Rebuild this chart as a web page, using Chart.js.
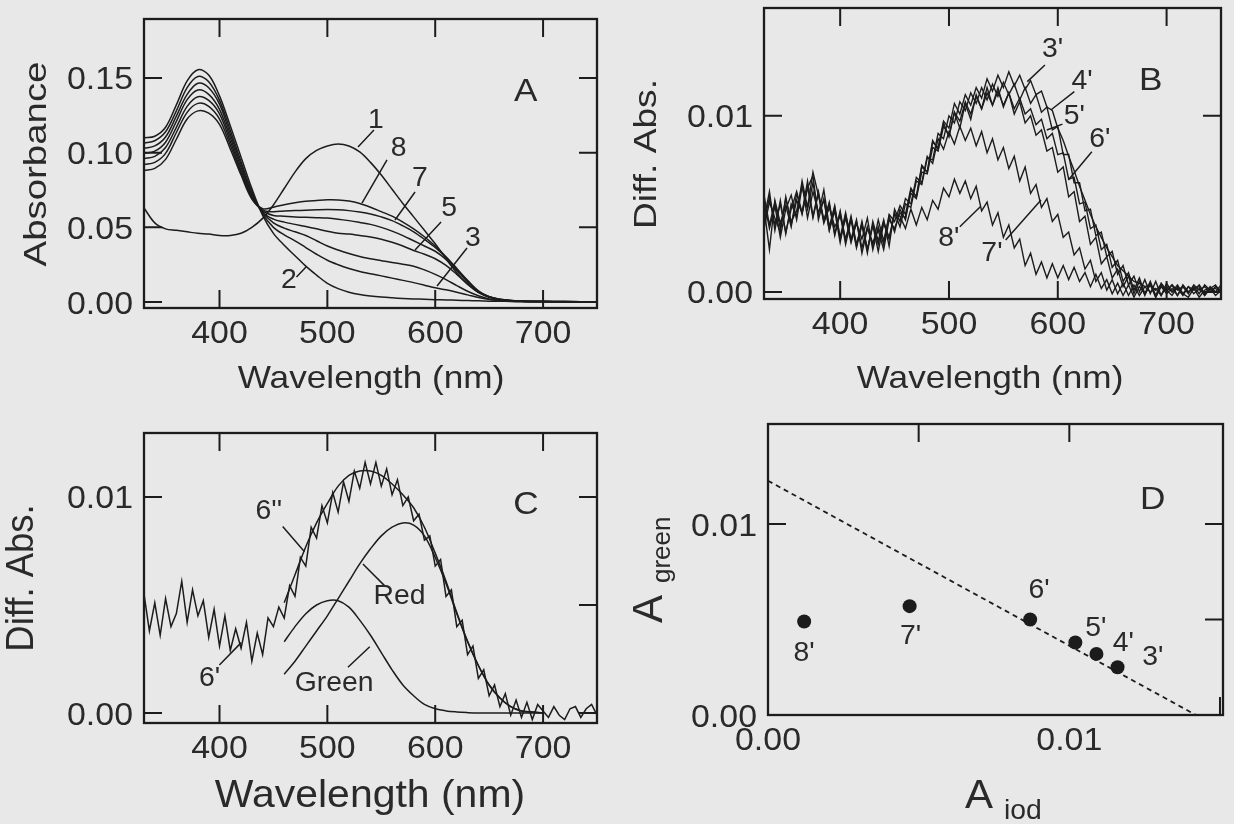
<!DOCTYPE html>
<html>
<head>
<meta charset="utf-8">
<script src="https://cdn.jsdelivr.net/npm/chart.js@4.4.1/dist/chart.umd.min.js"></script>
<style>
  html, body { margin: 0; padding: 0; background: #e8e8e8; }
  #wrap { position: relative; width: 1234px; height: 824px; overflow: hidden; }
  #wrap canvas { position: absolute; left: 0; top: 0; }
</style>
</head>
<body>
<div id="wrap">
  <canvas id="panelA" width="1234" height="824"></canvas>
  <canvas id="panelB" width="1234" height="824"></canvas>
  <canvas id="panelC" width="1234" height="824"></canvas>
  <canvas id="panelD" width="1234" height="824"></canvas>
</div>
<script>
// ---- panel A: absorbance spectra 1..8 ----
const wlA = [330,340,350,360,370,380,390,400,410,420,430,440,450,460,470,480,490,500,510,520,
  530,540,550,560,570,580,590,600,610,620,630,640,650,660,670,680,700,720,750];
const abs1 = [0.063,0.053,0.049,0.048,0.047,0.046,0.0455,0.0445,0.0445,0.046,0.050,0.056,0.065,
  0.076,0.087,0.096,0.1015,0.1045,0.1058,0.1045,0.1005,0.0935,0.085,0.0755,0.066,0.057,0.048,0.039,
  0.029,0.0195,0.012,0.0065,0.0035,0.0018,0.001,0.0006,0.0003,0.0002,0.0001];
const abs2 = [0.110,0.111,0.117,0.132,0.148,0.1555,0.152,0.138,0.118,0.097,0.076,0.058,0.046,
  0.038,0.031,0.024,0.018,0.0125,0.009,0.0066,0.005,0.004,0.0033,0.0028,0.0024,0.0021,0.0018,0.0016,
  0.0014,0.0012,0.001,0.0008,0.0006,0.0005,0.0004,0.0003,0.0002,0.0002,0.0001];
const abs3 = [0.1065,0.108,0.114,0.128,0.1435,0.151,0.1475,0.135,0.115,0.094,0.074,0.059,0.050,
  0.045,0.041,0.0365,0.032,0.028,0.025,0.0225,0.0205,0.019,0.0175,0.016,0.0145,0.013,0.0113,0.0095,
  0.0082,0.0066,0.0048,0.003,0.0017,0.0009,0.0005,0.0004,0.0003,0.0002,0.0001];
const abs4 = [0.103,0.1045,0.1105,0.1245,0.139,0.1465,0.1435,0.1325,0.1125,0.092,0.0725,0.060,0.053,
  0.0495,0.047,0.0445,0.041,0.0375,0.0348,0.0325,0.0305,0.029,0.0277,0.0265,0.0253,0.024,0.0215,0.0185,
  0.015,0.011,0.0072,0.0042,0.0021,0.001,0.0006,0.0004,0.0003,0.0002,0.0001];
const abs5 = [0.0995,0.101,0.107,0.121,0.1355,0.142,0.139,0.129,0.110,0.090,0.0715,0.060,0.0555,
  0.0535,0.052,0.0505,0.049,0.0474,0.046,0.0455,0.0445,0.0435,0.042,0.040,0.0375,0.0345,0.032,0.029,
  0.0245,0.0185,0.012,0.0065,0.0032,0.0015,0.0008,0.0005,0.0003,0.0002,0.0001];
const abs6 = [0.096,0.0975,0.1035,0.117,0.131,0.1375,0.135,0.126,0.1075,0.088,0.0705,0.061,0.058,
  0.0575,0.057,0.0567,0.0565,0.0562,0.0555,0.0545,0.0533,0.052,0.050,0.0475,0.0445,0.041,0.0375,0.034,
  0.0285,0.021,0.0135,0.007,0.0034,0.0016,0.0009,0.0006,0.0004,0.0003,0.0002];
const abs7 = [0.092,0.0935,0.0995,0.1135,0.127,0.133,0.131,0.1225,0.105,0.0865,0.0695,0.0615,0.0605,
  0.061,0.0612,0.0615,0.0618,0.062,0.0618,0.0612,0.0603,0.059,0.057,0.0545,0.051,0.047,0.042,0.0365,
  0.0298,0.022,0.014,0.0072,0.0035,0.0017,0.001,0.0006,0.0004,0.0003,0.0002];
const abs8 = [0.088,0.0895,0.0955,0.109,0.1225,0.128,0.1265,0.119,0.1025,0.085,0.069,0.0625,0.0635,
  0.0652,0.0665,0.0675,0.068,0.0684,0.0683,0.0676,0.066,0.0635,0.0605,0.0575,0.0535,0.049,0.0437,0.0375,
  0.0303,0.0225,0.0145,0.0075,0.0036,0.0018,0.001,0.0007,0.0004,0.0003,0.0002];

// ---- panels B, C: difference spectra, values in units of 1e-4 ----
const DIFF_UNIT = 1e-4;
const wlB = [330,335,340,345,350,355,360,365,370,375,380,385,390,395,400,405,410,415,420,425,430,
  435,440,445,450,455,460,465,470,475,480,485,490,495,500,505,510,515,520,525,530,535,540,545,550,
  555,560,565,570,575,580,585,590,595,600,605,610,615,620,625,630,635,640,645,650,655,660,665,670,
  675,680,685,690,695,700,705,710,715,720,725,730,735,740,745,750];
const diff3 = [52,36,49,31,47,55,41,60,47,62,44,58,37,49,30,42,28,40,25,37,26,41,29,43,34,
  47,41,58,54,71,68,85,82,97,93,107,101,112,106,116,110,121,114,123,116,125,117,123,115,120,
  112,114,105,103,93,86,77,69,60,52,44,37,31,25,20,15,12,9,6,5,3,4,1,4,0,4,1,3,-1,4,1,3,0,3,1];
const diff4 = [39,54,38,50,34,47,57,45,63,43,57,40,51,33,46,29,43,27,39,24,38,27,40,30,45,
  37,50,48,63,61,76,75,90,87,100,96,108,103,113,107,116,109,118,111,119,112,118,109,116,107,
  112,102,105,92,94,78,78,62,62,46,47,32,34,20,23,10,15,4,9,0,7,-1,6,-2,5,0,4,-1,3,1,4,-1,3,0,4];
const diff5 = [48,24,52,39,49,37,56,44,59,66,41,53,35,46,28,44,30,41,22,36,28,35,24,41,36,
  45,42,56,53,68,67,82,80,94,89,102,97,108,101,111,104,113,106,114,106,113,104,110,101,104,
  95,98,87,90,78,79,64,65,50,51,36,38,24,27,14,18,6,11,1,8,-1,6,-2,5,1,4,-2,4,0,3,-1,4,1,2,0];
const diff6 = [55,38,51,36,53,40,46,61,42,57,45,52,35,48,31,45,29,39,30,42,24,37,27,44,40,
  49,44,59,54,72,68,86,81,96,88,102,93,107,98,112,104,116,106,116,105,113,101,108,96,100,
  89,92,80,82,68,71,54,57,40,43,27,31,16,20,8,13,3,9,-1,6,-2,5,-3,4,1,-2,3,-1,-3,2,3,-2,2,4,-1];
const diff7 = [41,57,35,52,33,50,43,63,48,68,55,41,50,32,45,27,41,25,38,22,40,29,41,26,47,
  40,53,50,65,62,77,73,87,81,91,84,94,86,93,83,91,79,87,75,82,70,77,63,71,56,
  61,48,53,40,44,31,34,21,25,13,18,6,11,1,7,-1,5,-2,4,-2,3,0,2,-2,3,0,2,-2,3,-1,2,-2,2,0,1];
const diff8 = [36,51,42,34,54,38,52,45,60,42,56,39,48,37,43,30,42,26,40,24,38,23,39,31,44,
  43,36,47,38,48,41,52,47,59,54,64,56,63,53,60,46,51,38,45,31,38,25,30,15,22,
  10,17,8,16,8,15,7,14,6,11,3,10,2,7,-1,5,-2,4,-3,3,-1,4,-3,3,-1,2,-2,3,0,2,-3,1,2,-2,1];

// panel C: decomposition of 6' into green and red bands (1e-4 units)
const wlFit = [460,470,480,490,500,510,520,530,540,550,560,570,580,590,600,610,620,630,640,650,
  660,670,680,690,700];
const greenBand = [33,40,46,50,52,52,49,43,36,28,20,13,8,4,2,1,0.5,0.2,0,0,0,0,0,0,0];
const redBand = [18,24,31,38,45,53,61,69,76,82,86,88,87,82,72,60,46,33,22,13,7,3,1,0.5,0];
const fit6 = [51,64,77,88,97,105,110,112,112,110,106,101,95,86,74,61,46.5,33.2,22,13,7,3,1,0.5,0];

// ---- panel D: A_green vs A_iod ----
const pointNames = ["8'", "7'", "6'", "5'", "4'", "3'"];
const aIod = [0.0012, 0.0047, 0.0087, 0.0102, 0.0109, 0.0116];
const aGreen = [0.0049, 0.0057, 0.0050, 0.0038, 0.0032, 0.0025];
const fitLineX = [0, 0.0142];
const fitLineY = [0.01227, 0];

// ticks
const wlTicks = [400, 500, 600, 700];
const wlTickLabels = ['400', '500', '600', '700'];
const absTicks = [0, 0.05, 0.10, 0.15];
const absTickLabels = ['0.00', '0.05', '0.10', '0.15'];
const diffTicks = [0, 0.01];
const diffTickLabels = ['0.00', '0.01'];
const diffMinorTicks = [0, 0.005, 0.01];
const dTicks = [0, 0.01];
const dTickLabels = ['0.00', '0.01'];

const W = 1234, H = 824;
const INK = '#1c1c1c';
const TXT = '#2a2a2a';
const FONT = '"Liberation Sans", Arial, Helvetica, sans-serif';
const TICK = 18;

function txt(ctx, s, x, y, o) {
  ctx.save();
  ctx.translate(x, y);
  if (o.rot) ctx.rotate(o.rot);
  ctx.scale(o.sx || 1, 1);
  ctx.font = o.size + 'px ' + FONT;
  ctx.textAlign = o.align || 'center';
  ctx.textBaseline = o.base || 'middle';
  ctx.fillStyle = TXT;
  ctx.fillText(s, 0, 0);
  ctx.restore();
}

const panelDeco = {
  id: 'panelDeco',
  afterDraw(chart, args, o) {
    const { ctx, chartArea: a } = chart;
    const sx = chart.scales.x, sy = chart.scales.y;
    const t = o.ticks;
    ctx.save();
    ctx.strokeStyle = INK;
    ctx.lineWidth = 2;
    ctx.beginPath();
    (t.bottom || []).forEach(v => { const p = sx.getPixelForValue(v); ctx.moveTo(p, a.bottom); ctx.lineTo(p, a.bottom - TICK); });
    (t.top || []).forEach(v => { const p = sx.getPixelForValue(v); ctx.moveTo(p, a.top); ctx.lineTo(p, a.top + TICK); });
    (t.left || []).forEach(v => { const p = sy.getPixelForValue(v); ctx.moveTo(a.left, p); ctx.lineTo(a.left + TICK, p); });
    (t.right || []).forEach(v => { const p = sy.getPixelForValue(v); ctx.moveTo(a.right, p); ctx.lineTo(a.right - TICK, p); });
    ctx.stroke();
    ctx.lineWidth = 2.3;
    ctx.strokeRect(a.left, a.top, a.right - a.left, a.bottom - a.top);

    // leader lines
    ctx.lineWidth = 1.5;
    ctx.beginPath();
    (o.leaders || []).forEach(l => {
      ctx.moveTo(sx.getPixelForValue(l[0]), sy.getPixelForValue(l[1]));
      ctx.lineTo(sx.getPixelForValue(l[2]), sy.getPixelForValue(l[3]));
    });
    ctx.stroke();
    ctx.restore();

    o.xLabels.values.forEach((v, i) =>
      txt(ctx, o.xLabels.text[i], sx.getPixelForValue(v), a.bottom + 35, { size: 32, sx: 1.06, base: 'alphabetic' }));
    o.yLabels.values.forEach((v, i) =>
      txt(ctx, o.yLabels.text[i], a.left - 11, sy.getPixelForValue(v) + 11.5, { size: 32, sx: 1.06, align: 'right', base: 'alphabetic' }));
    (o.notes || []).forEach(n =>
      txt(ctx, n.t, sx.getPixelForValue(n.x), sy.getPixelForValue(n.y), { size: 27, sx: 1.05 }));
    txt(ctx, o.letter.t, sx.getPixelForValue(o.letter.x), sy.getPixelForValue(o.letter.y), { size: 32, sx: 1.1 });
    (o.titles || []).forEach(tt => txt(ctx, tt.t, tt.x, tt.y, tt));
  }
};

function series(xs, ys, unit, opts) {
  return Object.assign({
    data: xs.map((x, i) => ({ x: x, y: ys[i] * unit })),
    showLine: true, pointRadius: 0, borderColor: INK, borderWidth: 1.5, tension: 0, fill: false
  }, opts || {});
}

function makeChart(id, area, xr, yr, datasets, deco) {
  return new Chart(document.getElementById(id), {
    type: 'scatter',
    data: { datasets: datasets },
    options: {
      responsive: false,
      animation: false,
      devicePixelRatio: 1,
      events: [],
      layout: { padding: { left: area.left, top: area.top, right: W - area.right, bottom: H - area.bottom } },
      scales: {
        x: { type: 'linear', display: false, min: xr[0], max: xr[1] },
        y: { type: 'linear', display: false, min: yr[0], max: yr[1] }
      },
      plugins: { legend: { display: false }, tooltip: { enabled: false }, panelDeco: deco }
    },
    plugins: [panelDeco]
  });
}

// A
makeChart('panelA', { left: 144, top: 19, right: 597, bottom: 308 }, [330, 750], [-0.004, 0.1895],
  [abs1, abs2, abs3, abs4, abs5, abs6, abs7, abs8].map(c => series(wlA, c, 1, { tension: 0.35 })),
  {
    ticks: { bottom: wlTicks, top: wlTicks, left: absTicks, right: absTicks },
    xLabels: { values: wlTicks, text: wlTickLabels },
    yLabels: { values: absTicks, text: absTickLabels },
    letter: { t: 'A', x: 684, y: 0.1406 },
    notes: [
      { t: '1', x: 545.1, y: 0.1212 }, { t: '8', x: 566.1, y: 0.1025 }, { t: '7', x: 585.9, y: 0.0824 },
      { t: '5', x: 612.8, y: 0.0623 }, { t: '3', x: 635.0, y: 0.0422 }, { t: '2', x: 464.4, y: 0.0147 }
    ],
    leaders: [
      [528.4, 0.1038, 543.2, 0.1152], [532.1, 0.0663, 555.3, 0.0951], [562.7, 0.0549, 581.3, 0.0737],
      [581.3, 0.0348, 605.4, 0.0536], [601.7, 0.0107, 629.5, 0.0362], [471.4, 0.0168, 480.2, 0.0235]
    ],
    titles: [
      { t: 'Wavelength (nm)', x: 371, y: 388, size: 32, sx: 1.1, base: 'alphabetic' },
      { t: 'Absorbance', x: 37, y: 164, size: 32, sx: 1.2, rot: -Math.PI / 2 }
    ]
  });

// B
makeChart('panelB', { left: 764, top: 8, right: 1221, bottom: 299 }, [330, 750], [-0.0004, 0.01612],
  [diff3, diff4, diff5, diff6, diff7, diff8].map(c => series(wlB, c, DIFF_UNIT, { borderWidth: 1.4 })),
  {
    ticks: { bottom: wlTicks, top: wlTicks, left: diffTicks, right: diffTicks },
    xLabels: { values: wlTicks, text: wlTickLabels },
    yLabels: { values: diffTicks, text: diffTickLabels },
    letter: { t: 'B', x: 685.5, y: 0.01194 },
    notes: [
      { t: "3'", x: 595.3, y: 0.01374 }, { t: "4'", x: 622.3, y: 0.01194 }, { t: "5'", x: 615.2, y: 0.00995 },
      { t: "6'", x: 638.7, y: 0.00863 }, { t: "7'", x: 539.5, y: 0.00219 }, { t: "8'", x: 499.9, y: 0.00304 }
    ],
    leaders: [
      [572.0, 0.01194, 588.2, 0.01288], [593.6, 0.01033, 615.2, 0.01137], [589.9, 0.00919, 604.3, 0.00953],
      [609.7, 0.00636, 631.3, 0.00796], [552.1, 0.00295, 584.6, 0.00522], [510.0, 0.00370, 528.8, 0.00484]
    ],
    titles: [
      { t: 'Wavelength (nm)', x: 990, y: 388, size: 32, sx: 1.1, base: 'alphabetic' },
      { t: 'Diff. Abs.', x: 647, y: 154, size: 32, sx: 1.16, rot: -Math.PI / 2 }
    ]
  });

// C
makeChart('panelC', { left: 144, top: 433, right: 597, bottom: 723 }, [330, 750], [-0.00046, 0.01296],
  [
    series(wlB, diff6, DIFF_UNIT, { borderWidth: 1.5 }),
    series(wlFit, fit6, DIFF_UNIT, { tension: 0.35 }),
    series(wlFit, redBand, DIFF_UNIT, { tension: 0.35 }),
    series(wlFit, greenBand, DIFF_UNIT, { tension: 0.35 })
  ],
  {
    ticks: { bottom: wlTicks, top: wlTicks, left: diffTicks, right: diffMinorTicks },
    xLabels: { values: wlTicks, text: wlTickLabels },
    yLabels: { values: diffTicks, text: diffTickLabels },
    letter: { t: 'C', x: 684.1, y: 0.00963 },
    notes: [
      { t: "6''", x: 445.8, y: 0.00932 }, { t: "6'", x: 390.8, y: 0.00161 },
      { t: 'Red', x: 566.8, y: 0.00539 }, { t: 'Green', x: 506.3, y: 0.00137 }
    ],
    leaders: [
      [458.6, 0.00863, 478.8, 0.00747], [399.9, 0.00222, 420.1, 0.00326],
      [533.0, 0.0069, 553.9, 0.00585], [539.3, 0.00307, 519.1, 0.00212]
    ],
    titles: [
      { t: 'Wavelength (nm)', x: 370, y: 807, size: 39, sx: 1.05, base: 'alphabetic' },
      { t: 'Diff. Abs.', x: 23, y: 578, size: 38, sx: 0.96, rot: -Math.PI / 2 }
    ]
  });

// D
makeChart('panelD', { left: 768, top: 424, right: 1223, bottom: 715 }, [0, 0.0151], [0, 0.01524],
  [
    { data: aIod.map((x, i) => ({ x: x, y: aGreen[i] })), pointRadius: 7, pointBackgroundColor: INK,
      pointBorderWidth: 0, showLine: false },
    { data: fitLineX.map((x, i) => ({ x: x, y: fitLineY[i] })), showLine: true, pointRadius: 0,
      borderColor: INK, borderWidth: 1.8, borderDash: [5, 4] }
  ],
  {
    ticks: { bottom: [0.015], top: [0.005, 0.01], left: [0.01], right: [0.005, 0.01] },
    xLabels: { values: dTicks, text: dTickLabels },
    yLabels: { values: dTicks, text: dTickLabels },
    letter: { t: 'D', x: 0.01277, y: 0.01126 },
    notes: pointNames.map((n, i) => ({ t: n, x: [0.0012, 0.00473, 0.009, 0.01088, 0.01179, 0.01277][i],
      y: [0.00323, 0.0041, 0.00654, 0.00454, 0.00375, 0.00302][i] })),
    titles: [
      { t: 'A', x: 965, y: 808, size: 40, sx: 1.05, align: 'left', base: 'alphabetic' },
      { t: 'iod', x: 1004, y: 819, size: 27, sx: 1.05, align: 'left', base: 'alphabetic' },
      { t: 'A', x: 662, y: 623, size: 42, sx: 1.0, align: 'left', base: 'alphabetic', rot: -Math.PI / 2 },
      { t: 'green', x: 670, y: 583, size: 26, sx: 1.0, align: 'left', base: 'alphabetic', rot: -Math.PI / 2 }
    ]
  });
</script>
</body>
</html>
